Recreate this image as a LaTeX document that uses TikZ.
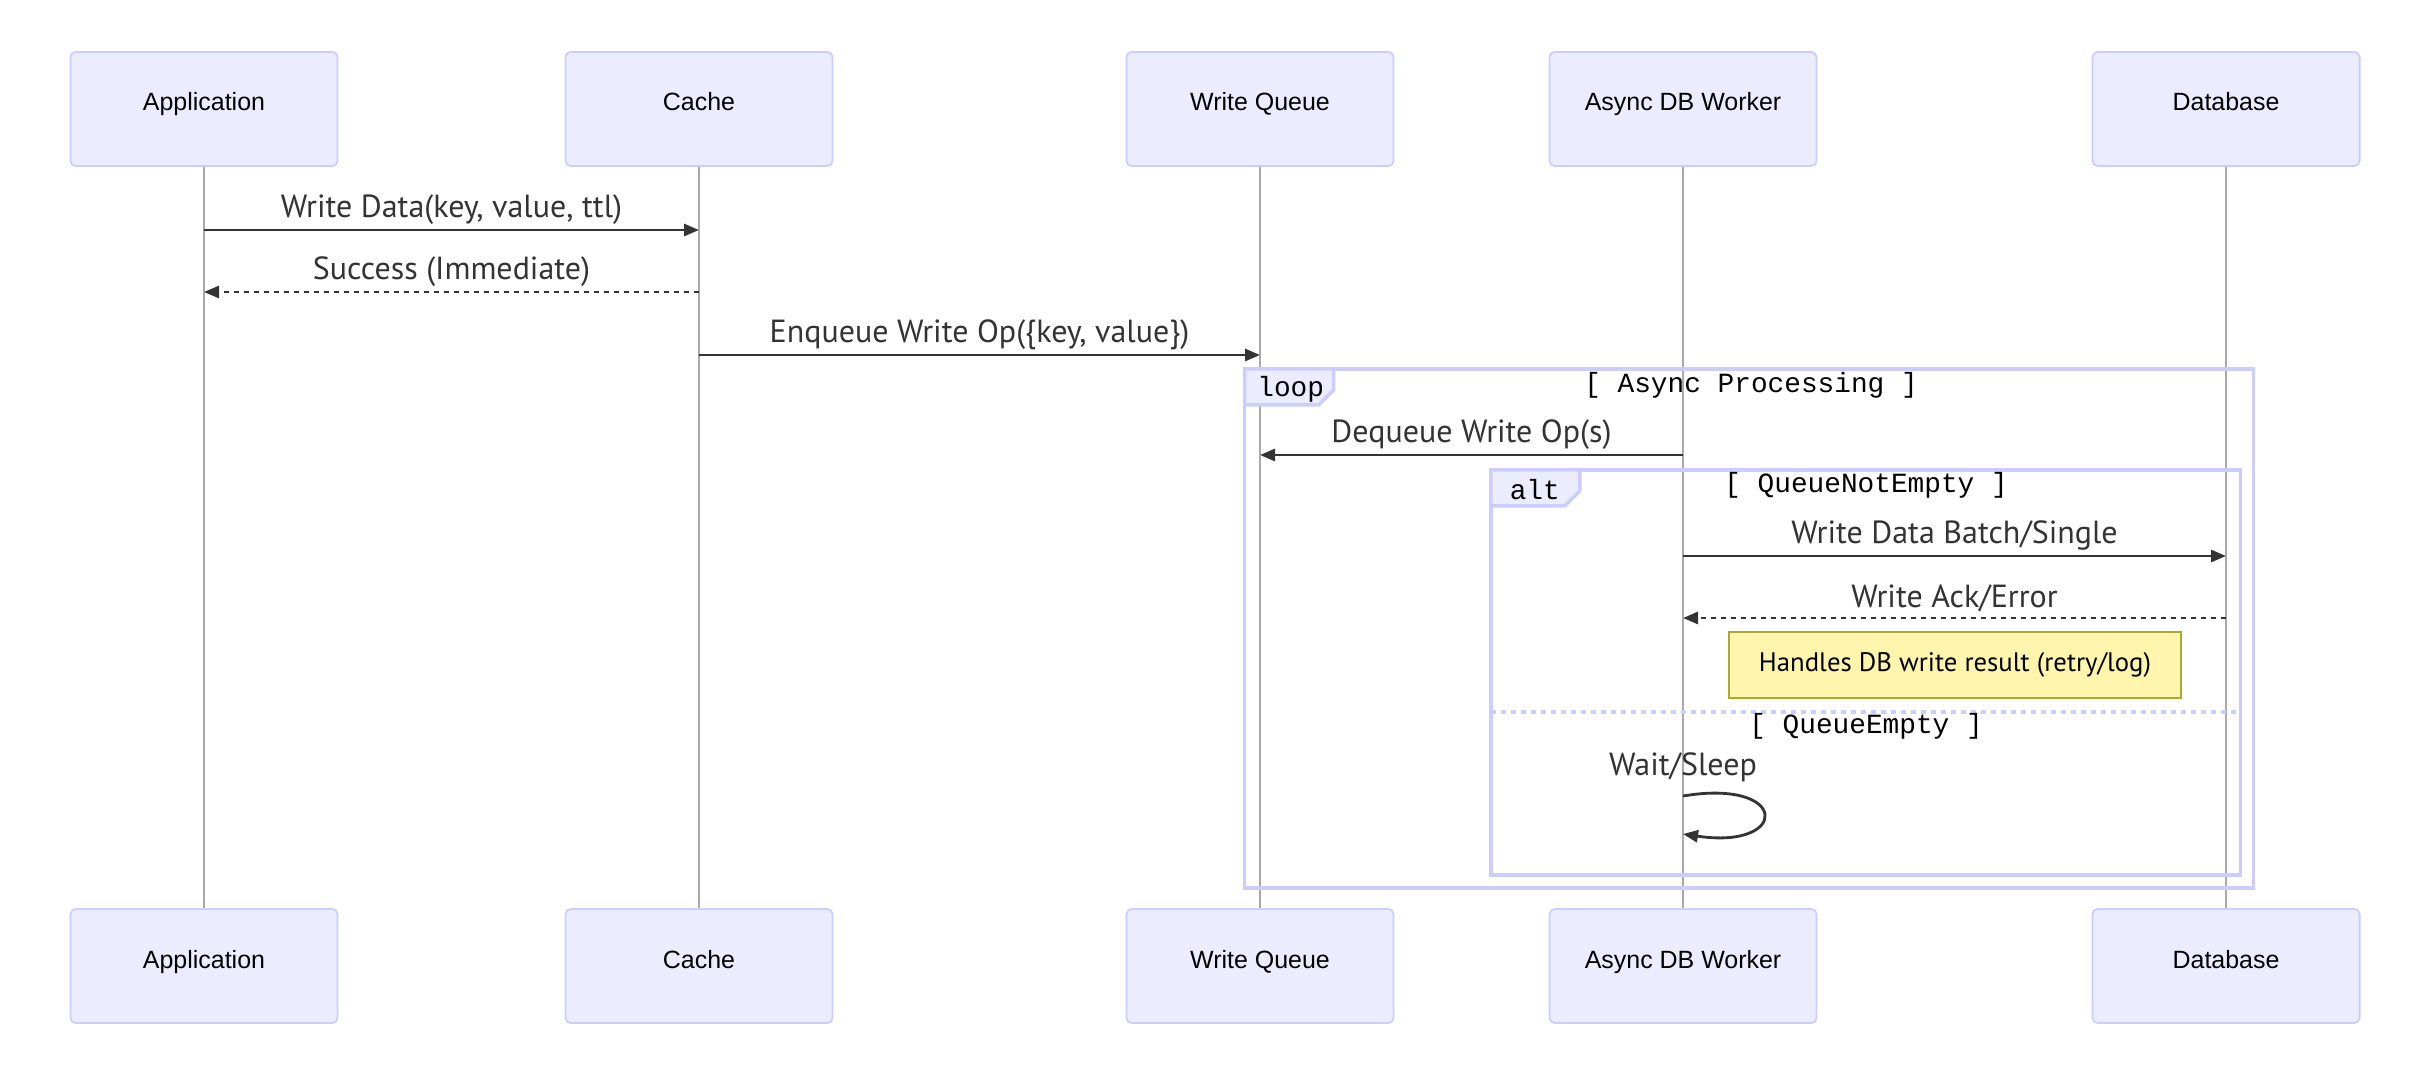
\documentclass[tikz,border=0pt]{standalone}
\usepackage{fontspec}
\setmainfont{Liberation Sans}
\newfontfamily\msgfont{PT Sans}
\newfontfamily\frmfont{Liberation Mono}
\usetikzlibrary{arrows.meta,calc}
\definecolor{mfill}{HTML}{ECECFF}
\definecolor{mborder}{HTML}{CCCCFF}
\definecolor{mtext}{HTML}{333333}
\definecolor{mlife}{HTML}{AAAAAA}
\definecolor{nfill}{HTML}{FFF5AD}
\definecolor{nborder}{HTML}{AAAA33}
\tikzset{
  actor/.style ={rectangle, rounded corners=1.5pt, draw=mborder, fill=mfill,
                 line width=0.5pt, minimum width=2.67cm, minimum height=1.14cm,
                 inner sep=0pt, font=\fontsize{7.1}{8}\selectfont,
                 text height=0.18cm, text depth=0.14cm},
  life/.style  ={draw=mlife, line width=0.35pt},
  msg/.style   ={draw=mtext, line width=0.8pt,
                 -{Triangle[length=0.15cm, width=0.12cm]}},
  ret/.style   ={msg, dash pattern=on 0.05cm off 0.05cm},
  msglbl/.style={font=\msgfont\fontsize{9.1}{11}\selectfont, text=mtext,
                 inner sep=0pt, yshift=0.2cm},
  frame/.style ={rectangle, draw=mborder, line width=1pt, inner sep=0pt,
                 outer sep=0pt},
  tab/.style   ={draw=mborder, fill=mfill, line width=1pt},
  frlbl/.style ={font=\frmfont\fontsize{7.9}{9}\selectfont, text=black,
                 inner sep=0pt},
  sep/.style   ={draw=mborder, line width=1pt, dash pattern=on 0.05cm off 0.05cm},
  note/.style  ={rectangle, draw=nborder, fill=nfill, line width=0.5pt,
                 minimum width=4.52cm, minimum height=0.66cm, inner sep=0pt,
                 font=\msgfont\fontsize{7.6}{9}\selectfont}
}
\begin{document}
\begin{tikzpicture}[x=0.01cm, y=-0.01cm]
\useasboundingbox (0,0) rectangle (2410,1082);

% participants
\node[actor] (app)    at (204,109)  {Application};
\node[actor] (cache)  at (699,109)  {Cache};
\node[actor] (queue)  at (1260,109) {Write Queue};
\node[actor] (worker) at (1683,109) {Async DB Worker};
\node[actor] (db)     at (2226,109) {Database};
\node[actor] (appB)    at (204,966)  {Application};
\node[actor] (cacheB)  at (699,966)  {Cache};
\node[actor] (queueB)  at (1260,966) {Write Queue};
\node[actor] (workerB) at (1683,966) {Async DB Worker};
\node[actor] (dbB)     at (2226,966) {Database};

\foreach \p in {app,cache,queue,worker,db}
  \draw[life] (\p.south) -- (\p B.north);

% message rows
\coordinate (m1) at (0,230);
\coordinate (m2) at (0,292);
\coordinate (m3) at (0,355);
\coordinate (m4) at (0,455);
\coordinate (m5) at (0,556);
\coordinate (m6) at (0,618);
\coordinate (m7) at (0,796);
\coordinate (m8) at (0,834);

% loop and alt frames
\node[frame, minimum width=10.08cm, minimum height=5.19cm] (loopfr) at (1749,628.5) {};
\draw[tab] (loopfr.north west) -- ++(89,0) -- ++(0,21) -- ++(-15,15) -- ++(-74,0) -- cycle;
\node[frlbl] (looptag) at ($(loopfr.north west)+(46,20)$) {loop};
\node[frlbl] (loopcond) at (1751,385) {[ Async Processing ]};

\node[frame, minimum width=7.49cm, minimum height=4.05cm] (altfr) at (1865.5,672.5) {};
\draw[tab] (altfr.north west) -- ++(89,0) -- ++(0,21) -- ++(-15,15) -- ++(-74,0) -- cycle;
\node[frlbl] (alttag) at ($(altfr.north west)+(44,20)$) {alt};
\node[frlbl] (altcond) at (1866,485) {[ QueueNotEmpty ]};
\draw[sep] (altfr.west |- 0,712) -- (altfr.east |- 0,712);
\node[frlbl] (elsecond) at (1866,726) {[ QueueEmpty ]};

% messages
\draw[msg] (app |- m1) -- node[msglbl] (l1) {Write Data(key, value, ttl)} (cache |- m1);
\draw[ret] (cache |- m2) -- node[msglbl] (l2) {Success (Immediate)} (app |- m2);
\draw[msg] (cache |- m3) -- node[msglbl] (l3) {Enqueue Write Op(\{key, value\})} (queue |- m3);
\draw[msg] (worker |- m4) -- node[msglbl] (l4) {Dequeue Write Op(s)} (queue |- m4);
\draw[msg] (worker |- m5) -- node[msglbl] (l5) {Write Data Batch/Single} (db |- m5);
\draw[ret] (db |- m6) -- node[msglbl] (l6) {Write Ack/Error} (worker |- m6);
\node[note] (handle) at (1955,665) {Handles DB write result (retry/log)};
\node[msglbl, yshift=-0.2cm] (l7) at (1683,767) {Wait/Sleep};
\draw[msg] (worker |- m7) .. controls +(107,-18) and +(107,16) .. (worker |- m8);
\end{tikzpicture}
\end{document}
